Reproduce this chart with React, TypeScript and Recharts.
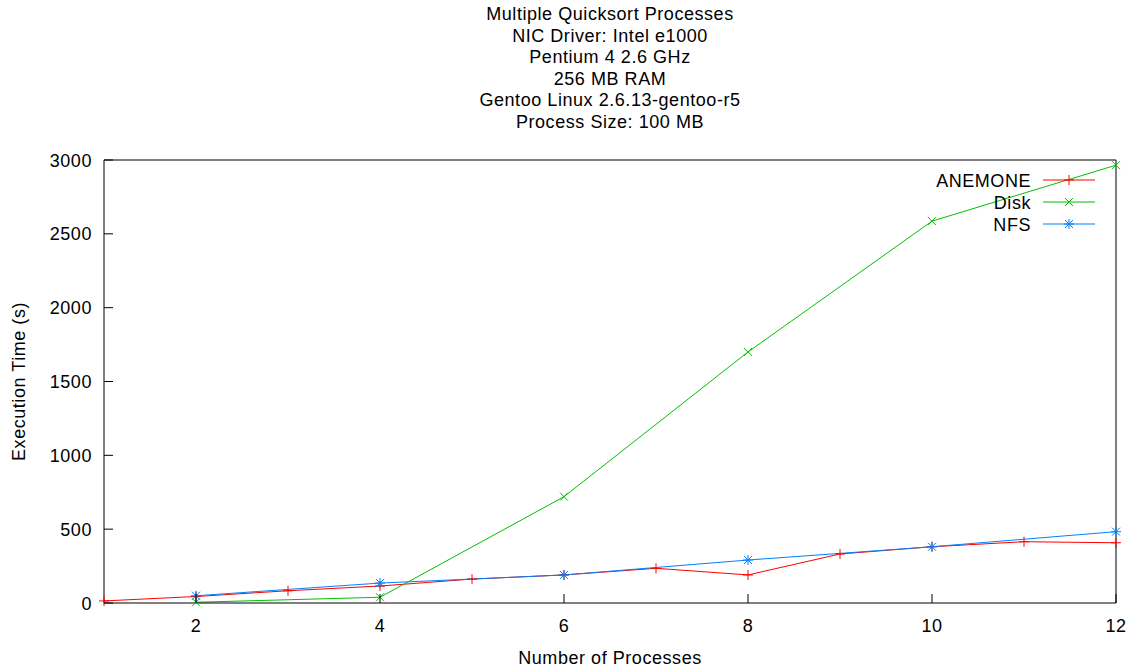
import React from 'react';
import { LineChart, Line, XAxis, YAxis } from 'recharts';

const titleLines = [
  'Multiple Quicksort Processes',
  'NIC Driver: Intel e1000',
  'Pentium 4 2.6 GHz',
  '256 MB RAM',
  'Gentoo Linux 2.6.13-gentoo-r5',
  'Process Size: 100 MB',
];
const xLabel = 'Number of Processes';
const yLabel = 'Execution Time (s)';

const xTicks = [2, 4, 6, 8, 10, 12];
const yTicks = [0, 500, 1000, 1500, 2000, 2500, 3000];

const anemoneX = [1, 2, 3, 4, 5, 6, 7, 8, 9, 10, 11, 12];
const anemoneY = [14, 44, 83, 115, 162, 190, 235, 190, 332, 381, 415, 408];
const diskX = [2, 4, 6, 8, 10, 12];
const diskY = [5, 39, 720, 1700, 2586, 2965];
const nfsX = [2, 4, 6, 8, 10, 12];
const nfsY = [49, 135, 190, 291, 381, 483];

const seriesNames = ['ANEMONE', 'Disk', 'NFS'];
const seriesColors = ['#ff0000', '#00c000', '#0080ff'];
const markerTypes = ['plus', 'cross', 'star'];

const FONT = '"Liberation Sans", Arial, Helvetica, sans-serif';
const FS = 18;
const LS = 0.55;
const TICK = 9;

const toData = (xs: number[], ys: number[]) => xs.map((x, i) => ({ x, y: ys[i] }));
const anemoneData = toData(anemoneX, anemoneY);
const diskData = toData(diskX, diskY);
const nfsData = toData(nfsX, nfsY);

function markerPath(type: string, cx: number, cy: number) {
  const p = 5;
  const c = 4;
  const plus = `M${cx - p},${cy}H${cx + p}M${cx},${cy - p}V${cy + p}`;
  const cross = `M${cx - c},${cy - c}L${cx + c},${cy + c}M${cx - c},${cy + c}L${cx + c},${cy - c}`;
  if (type === 'plus') return plus;
  if (type === 'cross') return cross;
  return plus + cross;
}

const makeDot = (type: string, color: string) => (props: any) => {
  const { cx, cy, index } = props;
  if (cx == null || cy == null) return <g key={`d${index}`} />;
  return <path key={`d${index}`} d={markerPath(type, cx, cy)} stroke={color} strokeWidth={1} fill="none" />;
};

const BottomTick = (props: any) => {
  const { x, y, payload } = props;
  return (
    <g>
      <line x1={x} x2={x} y1={y} y2={y - TICK} stroke="#000" strokeWidth={1} />
      <text x={x} y={y + 29} textAnchor="middle" fontFamily={FONT} fontSize={FS} letterSpacing={LS} fill="#000">
        {payload.value}
      </text>
    </g>
  );
};
const TopTick = (props: any) => {
  const { x, y } = props;
  return <line x1={x} x2={x} y1={y} y2={y + TICK} stroke="#000" strokeWidth={1} />;
};
const LeftTick = (props: any) => {
  const { x, y, payload } = props;
  return (
    <g>
      <line x1={x} x2={x + TICK} y1={y} y2={y} stroke="#000" strokeWidth={1} />
      <text x={x - 12} y={y + 6.5} textAnchor="end" fontFamily={FONT} fontSize={FS} letterSpacing={LS} fill="#000">
        {payload.value}
      </text>
    </g>
  );
};
const RightTick = (props: any) => {
  const { x, y } = props;
  return <line x1={x} x2={x - TICK} y1={y} y2={y} stroke="#000" strokeWidth={1} />;
};

export default function App() {
  const datasets = [anemoneData, diskData, nfsData];
  return (
    <div style={{ position: 'absolute', left: 0, top: 0, width: 1134, height: 670, background: '#fff', overflow: 'hidden' }}>
      <LineChart width={1134} height={670} margin={{ top: 150, right: 8, bottom: 0, left: 0 }}>
        <XAxis
          dataKey="x"
          type="number"
          domain={[1, 12]}
          ticks={xTicks}
          height={67}
          tickSize={0}
          tickMargin={0}
          tickLine={false}
          axisLine={{ stroke: '#000', strokeWidth: 1 }}
          tick={BottomTick}
          interval={0}
        />
        <XAxis
          xAxisId="top"
          orientation="top"
          dataKey="x"
          type="number"
          domain={[1, 12]}
          ticks={xTicks}
          height={10}
          tickSize={0}
          tickMargin={0}
          tickLine={false}
          axisLine={{ stroke: '#000', strokeWidth: 1 }}
          tick={TopTick}
          interval={0}
        />
        <YAxis
          type="number"
          domain={[0, 3000]}
          ticks={yTicks}
          width={104}
          tickSize={0}
          tickMargin={0}
          tickLine={false}
          axisLine={{ stroke: '#000', strokeWidth: 1 }}
          tick={LeftTick}
          interval={0}
        />
        <YAxis
          yAxisId="right"
          orientation="right"
          type="number"
          domain={[0, 3000]}
          ticks={yTicks}
          width={10}
          tickSize={0}
          tickMargin={0}
          tickLine={false}
          axisLine={{ stroke: '#000', strokeWidth: 1 }}
          tick={RightTick}
          interval={0}
        />
        {datasets.map((d, i) => (
          <Line
            key={seriesNames[i]}
            data={d}
            dataKey="y"
            name={seriesNames[i]}
            type="linear"
            stroke={seriesColors[i]}
            strokeWidth={1}
            dot={makeDot(markerTypes[i], seriesColors[i])}
            activeDot={false}
            isAnimationActive={false}
          />
        ))}
      </LineChart>
      <svg width={1134} height={670} style={{ position: 'absolute', left: 0, top: 0, pointerEvents: 'none' }}>
        {titleLines.map((t, i) => (
          <text key={t} x={610} y={20 + i * 21.6} textAnchor="middle" fontFamily={FONT} fontSize={FS} letterSpacing={LS} fill="#000">
            {t}
          </text>
        ))}
        <text x={610} y={664} textAnchor="middle" fontFamily={FONT} fontSize={FS} letterSpacing={LS} fill="#000">
          {xLabel}
        </text>
        <text
          x={0}
          y={0}
          transform="translate(24.5,381.5) rotate(-90)"
          textAnchor="middle"
          fontFamily={FONT}
          fontSize={FS}
          letterSpacing={LS}
          fill="#000"
        >
          {yLabel}
        </text>
        {seriesNames.map((n, i) => {
          const cy = 180 + i * 22;
          return (
            <g key={n}>
              <text x={1031} y={cy + 6.5} textAnchor="end" fontFamily={FONT} fontSize={FS} letterSpacing={LS} fill="#000">
                {n}
              </text>
              <line x1={1043} x2={1095} y1={cy} y2={cy} stroke={seriesColors[i]} strokeWidth={1} />
              <path d={markerPath(markerTypes[i], 1069, cy)} stroke={seriesColors[i]} strokeWidth={1} fill="none" />
            </g>
          );
        })}
      </svg>
    </div>
  );
}
